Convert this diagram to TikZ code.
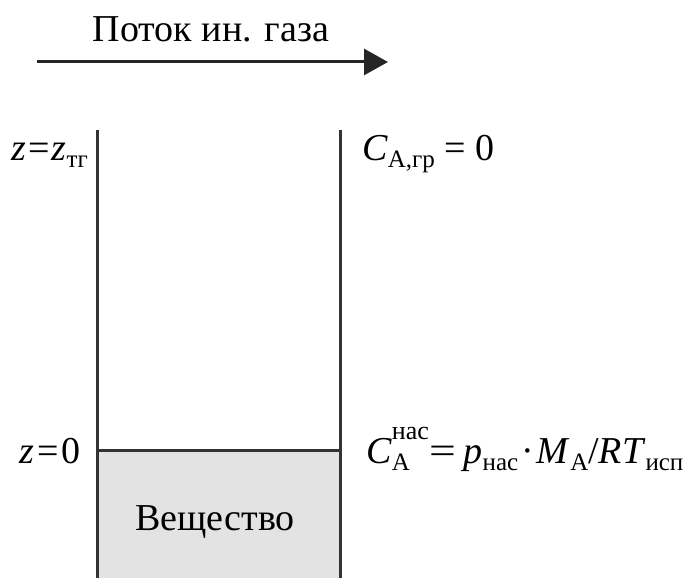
\documentclass[tikz,border=0pt]{standalone}
\usepackage{fontspec}
\setmainfont{Liberation Serif}
\usetikzlibrary{arrows.meta}
\newcommand\lsub[1]{\raisebox{-0.2em}{\fontsize{25}{25}\selectfont #1}}
\newcommand\lsup[1]{\raisebox{0.62em}{\fontsize{26}{26}\selectfont #1}}
\tikzset{
  lbl/.style={inner sep=0pt, font=\fontsize{38}{40}\selectfont},
  wall/.style={line width=3pt, draw=black!80},
  flow/.style={line width=3pt, draw=black!85, -{Triangle[length=24pt,width=26pt]}}
}
\begin{document}
\begin{tikzpicture}[x=1pt,y=-1pt]
\useasboundingbox (0,0) rectangle (688,578);
% flow arrow
\coordinate (fs) at (37,62);
\coordinate (fe) at (388,62);
\draw[flow] (fs) -- (fe);
\node[lbl, anchor=base] (title) at (211,42) {Поток ин. газа};
% substance
\fill[black!11] (97,450) rectangle (340,578);
\coordinate (lt) at (97,130);
\coordinate (lb) at (97,580);
\coordinate (rt) at (340,130);
\coordinate (rb) at (340,580);
\coordinate (ls) at (97,450);
\coordinate (rs) at (340,450);
\draw[wall] (lt) -- (lb);
\draw[wall] (rt) -- (rb);
\draw[wall] (ls) -- (rs);
\node[lbl, anchor=base] (sub) at (215,530) {Вещество};
% labels
\node[lbl, anchor=base east] (ztop) at (88,160) {\textit{z}\hspace{2pt}=\hspace{2pt}\textit{z}\lsub{тг}};
\node[lbl, anchor=base east] (zzero) at (81,463) {\textit{z}\hspace{3pt}=\hspace{3pt}0};
\node[lbl, anchor=base west] (ctop) at (362,160) {\textit{C}\lsub{A,гр} = 0};
\node[lbl, anchor=base west] (csat) at (366,463) {\textit{C}\rlap{\lsub{A}}\lsup{нас}\hspace{1pt}\scalebox{1.25}[1]{=}\hspace{7pt}\textit{p}\lsub{нас}\hspace{3pt}·\hspace{3pt}\textit{M}\lsub{A}/\textit{RT}\lsub{исп}};
\end{tikzpicture}
\end{document}
